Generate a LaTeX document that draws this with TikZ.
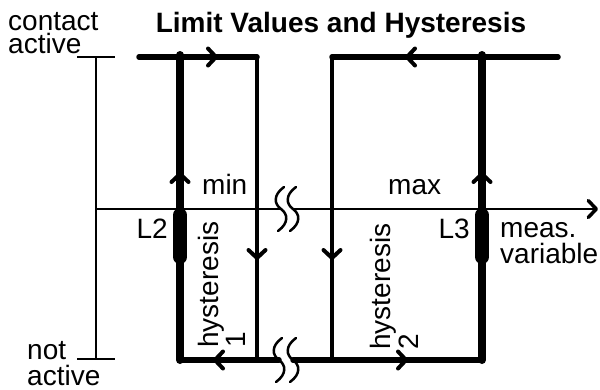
\documentclass[tikz,border=0pt]{standalone}
\usepackage{fontspec}
\setmainfont{Liberation Sans}
\usetikzlibrary{arrows.meta, decorations.markings, positioning}

\begin{document}
\begin{tikzpicture}[
  x=1pt, y=-1pt,
  lbl/.style={inner sep=0pt, align=left, font=\fontsize{28}{28}\selectfont},
  axisline/.style={line width=2.5pt},
  loopline/.style={line width=5.5pt, line cap=round, line join=round},
  slimline/.style={line width=4.5pt, line cap=round},
  heavyline/.style={line width=8pt, line cap=round},
  limitbar/.style={line width=14pt, line cap=round},
  breakline/.style={line width=2.5pt, line cap=round},
  chev/.style={postaction={decorate}, decoration={markings,
      mark=at position #1 with {\arrow{Straight Barb[length=8pt, width=17pt, line width=4pt, round]}}}},
  brk/.pic={\draw[breakline] (3,-22) .. controls (-8,-14) and (-7,-5) .. (0,0)
      .. controls (7,5) and (8,14) .. (-3,22);}
]
\useasboundingbox (0,0) rectangle (600,389);

% Title
\node[lbl, font=\fontsize{28}{28}\selectfont\bfseries, anchor=base] (title) at (341,32) {Limit Values and Hysteresis};

% Contact axis
\coordinate (ctop) at (96,57);
\coordinate (cbot) at (96,359);
\draw[axisline] (77,57) -- (115,57);
\draw[axisline] (77,359) -- (115,359);
\draw[axisline] (ctop) -- (cbot);
\node[lbl, anchor=base west] (active) at (8,53) {contact\\[-5pt]active};
\node[lbl, anchor=base west] (inactive) at (27,385) {not\\[-2pt]active};

% Measured variable axis
\coordinate (morig) at (96,209);
\coordinate (mbrkA) at (281,209);
\coordinate (mbrkB) at (293,209);
\coordinate (mend) at (598,209);
\draw[axisline] (morig) -- (mbrkA);
\draw[axisline, -{Straight Barb[length=8pt, width=17pt, line width=3.5pt, round]}] (mbrkB) -- (mend);
\pic at (mbrkA) {brk};
\pic at (mbrkB) {brk};
\node[lbl, anchor=base west] (meas) at (500,263) {meas.\\[-2pt]variable};

% Minimum loop
\coordinate (L2bot) at (180,360);
\coordinate (L2top) at (180,55);
\coordinate (minTL) at (139,57);
\coordinate (minTR) at (257,57);
\coordinate (minBR) at (257,360);
\coordinate (bbrkA) at (279,360);
\coordinate (bbrkB) at (293,360);
\draw[loopline, chev=79pt] (minTL) -- (minTR);
\draw[slimline, chev=203pt] (minTR) -- (minBR);
\draw[loopline, chev=66pt] (bbrkA) -- (L2bot);
\draw[heavyline, chev=188pt] (L2bot) -- (L2top);
\draw[limitbar] (180,215) -- (180,257);
\node[lbl, anchor=base east] (L2) at (168,238) {L2};
\node[lbl, anchor=base west] (min) at (202,194) {min};
\node[lbl, rotate=90, anchor=base west] (hyst1) at (245,348) {hysteresis\\[-1pt]1};

% Maximum loop
\coordinate (L3bot) at (482,360);
\coordinate (L3top) at (482,55);
\coordinate (maxTR) at (558,57);
\coordinate (maxTL) at (332,57);
\coordinate (maxBL) at (332,360);
\draw[loopline, chev=153pt] (maxTR) -- (maxTL);
\draw[slimline, chev=203pt] (maxTL) -- (maxBL);
\draw[loopline, chev=115pt] (bbrkB) -- (L3bot);
\draw[heavyline, chev=188pt] (L3bot) -- (L3top);
\draw[limitbar] (482,215) -- (482,257);
\node[lbl, anchor=base east] (L3) at (470,238) {L3};
\node[lbl, anchor=base west] (max) at (388,194) {max};
\node[lbl, rotate=90, anchor=base west] (hyst2) at (418,350) {hysteresis\\2};

% Breaks on the switching line
\pic at (bbrkA) {brk};
\pic at (bbrkB) {brk};
\end{tikzpicture}
\end{document}
